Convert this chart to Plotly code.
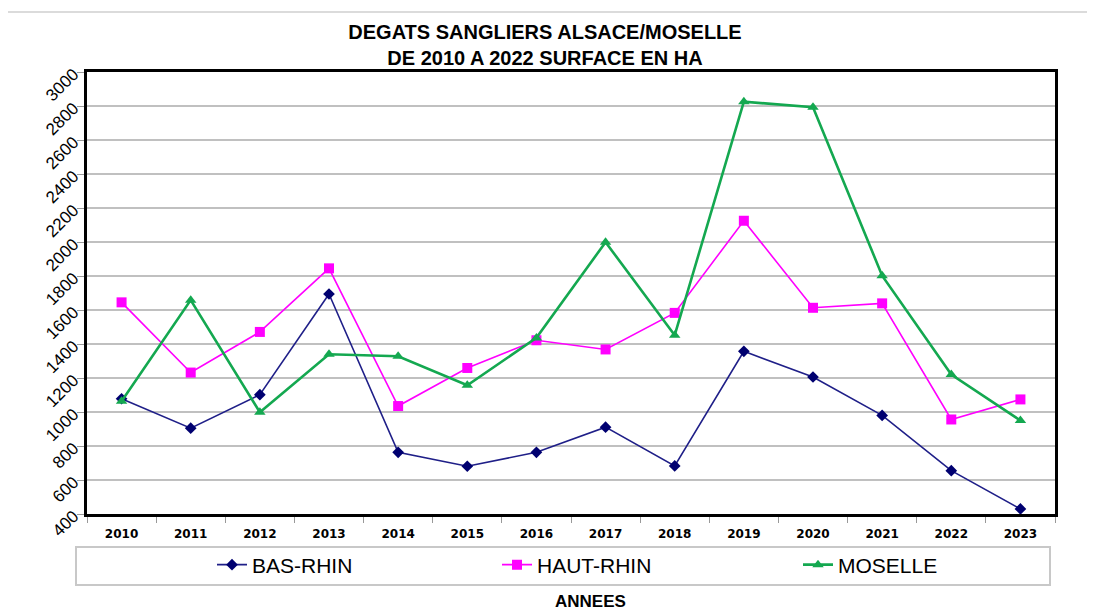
import plotly.graph_objects as go

years = [str(y) for y in range(2010, 2024)]
bas_rhin = [1078, 905, 1102, 1694, 763, 681, 763, 911, 683, 1357, 1206, 980, 655, 430]
haut_rhin = [1645, 1232, 1471, 1845, 1035, 1259, 1422, 1368, 1583, 2125, 1613, 1639, 956, 1074]
moselle = [1063, 1658, 999, 1340, 1328, 1157, 1436, 1999, 1452, 2825, 2793, 1802, 1220, 950]
y_ticks = list(range(400, 3001, 200))

W, H = 1095, 611
OFF = 8  # page body margin
# plot area in page pixels: x 87..1055, y 72..514
L, T = 87 - OFF, 72 - OFF
R = W + OFF - 1055
B = H + OFF - 514
pw, ph = W - L - R, H - T - B
FONT = "Liberation Sans, Arial, sans-serif"


def px(x):
    return (x - OFF - L) / pw


def py(y):
    return (H - B - (y - OFF)) / ph


fig = go.Figure()
fig.add_trace(go.Scatter(x=years, y=bas_rhin, name="BAS-RHIN", mode="lines+markers",
                         line=dict(color="#1f1f88", width=1.6),
                         marker=dict(symbol="diamond", size=9, color="#000070"),
                         legend="legend"))
fig.add_trace(go.Scatter(x=years, y=haut_rhin, name="HAUT-RHIN", mode="lines+markers",
                         line=dict(color="#FF00FF", width=1.6),
                         marker=dict(symbol="square", size=10, color="#FF00FF"),
                         legend="legend2"))
fig.add_trace(go.Scatter(x=years, y=moselle, name="MOSELLE", mode="lines+markers",
                         line=dict(color="#14A850", width=2.6),
                         marker=dict(symbol="triangle-up", size=10, color="#14A850"),
                         legend="legend3"))


def leg(text_x):
    return dict(orientation="h", xref="container", yref="container",
                x=(text_x - OFF - 41) / W, xanchor="left", y=1 - (565 - OFF) / H, yanchor="middle",
                bgcolor="rgba(0,0,0,0)", borderwidth=0,
                font=dict(size=21, family=FONT))


fig.update_layout(
    width=W, height=H,
    margin=dict(l=L, r=R, t=T, b=B, autoexpand=False),
    paper_bgcolor="white", plot_bgcolor="white",
    font=dict(family=FONT, color="black"),
    title=dict(text="<b>DEGATS SANGLIERS ALSACE/MOSELLE<br>DE 2010 A 2022 SURFACE EN HA</b>",
               x=px(545), xref="paper", xanchor="center", yref="container",
               y=1 - 31 / H, yanchor="top",
               font=dict(size=20, family=FONT)),
    showlegend=True,
    legend=leg(253),
    legend2=leg(538),
    legend3=leg(839),
    xaxis=dict(type="category", range=[-0.5, 13.5], showgrid=False,
               ticks="outside", tickson="boundaries", ticklen=6, tickcolor="#999999",
               ticklabelstandoff=7,
               tickfont=dict(size=12, family="DejaVu Sans, sans-serif"),
               tickprefix="<b>", ticksuffix="</b>",
               showline=True, linecolor="black", linewidth=3, mirror=True, zeroline=False),
    yaxis=dict(range=[400, 3000], tickvals=y_ticks, showgrid=True,
               gridcolor="#C0C0C0", gridwidth=1.6, ticks="outside", ticklen=7,
               tickcolor="#999999", tickangle=-45,
               tickfont=dict(size=17, family=FONT),
               showline=True, linecolor="black", linewidth=3, mirror=True, zeroline=False),
    shapes=[
        dict(type="rect", xref="paper", yref="paper", x0=px(4), x1=px(1093), y0=py(640), y1=py(12),
             line=dict(color="#D0D0D0", width=1.5), layer="below"),
        dict(type="rect", xref="paper", yref="paper", x0=px(76), x1=px(1050), y0=py(585), y1=py(547),
             line=dict(color="#C8C8C8", width=2), layer="below"),
    ],
    annotations=[
        dict(text="<b>ANNEES</b>", xref="paper", yref="paper", x=px(590), y=py(601),
             xanchor="center", yanchor="middle", showarrow=False,
             font=dict(size=17, family=FONT)),
    ],
)

fig.write_html("out.html")
